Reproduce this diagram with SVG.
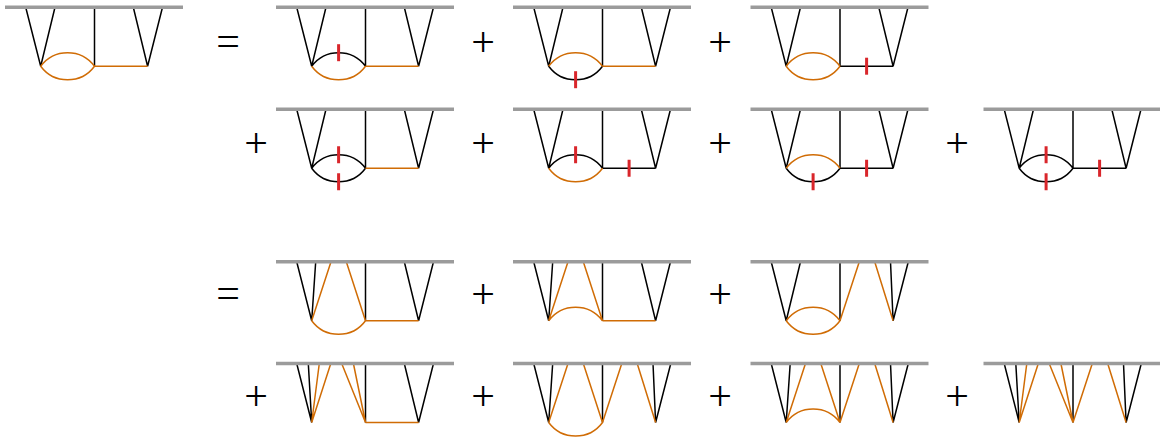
<svg xmlns="http://www.w3.org/2000/svg" width="1160" height="441" viewBox="0 0 1160 441">
<style>
.bar{stroke:#9b9b9b;stroke-width:3.6;fill:none}
.k{stroke:#000;stroke-width:1.5;fill:none}
.o{stroke:#d06c05;stroke-width:1.5;fill:none}
.t{stroke:#d9262b;stroke-width:3;fill:none}
.s{font-family:"Liberation Serif",serif;font-size:42px;text-anchor:middle;fill:#000}
</style>
<rect width="1160" height="441" fill="#fff"/>
<g id="symbols">
<text class="s" x="228" y="55">=</text>
<text class="s" x="483" y="56">+</text>
<text class="s" x="720" y="56">+</text>
<text class="s" x="256" y="157">+</text>
<text class="s" x="483" y="157">+</text>
<text class="s" x="720" y="157">+</text>
<text class="s" x="957" y="157">+</text>
<text class="s" x="228" y="307">=</text>
<text class="s" x="483" y="308">+</text>
<text class="s" x="720" y="308">+</text>
<text class="s" x="256" y="410">+</text>
<text class="s" x="483" y="410">+</text>
<text class="s" x="720" y="410">+</text>
<text class="s" x="957" y="410">+</text>
</g>
<g id="connectors">
<!-- row 1 -->
<g id="d1" transform="translate(5,7.2)">
<path class="k" d="M20.7 0L35.7 59M50 0L35.7 59M89.5 0V59M128.3 0L142.6 59M157.5 0L142.6 59"/>
<path class="o" d="M35.7 59A33.5 33.5 0 0 1 89.5 59M35.7 59A33.5 33.5 0 0 0 89.5 59M89.5 59H142.6"/>
<path class="bar" d="M0 0H178"/>
</g>
<g id="d2" transform="translate(276,7.2)">
<path class="k" d="M20.7 0L35.7 59M50 0L35.7 59M89.5 0V59M128.3 0L142.6 59M157.5 0L142.6 59M35.7 59A33.5 33.5 0 0 1 89.5 59"/>
<path class="o" d="M35.7 59A33.5 33.5 0 0 0 89.5 59M89.5 59H142.6"/>
<path class="t" d="M62.6 37v17"/>
<path class="bar" d="M0 0H178"/>
</g>
<g id="d3" transform="translate(513,7.2)">
<path class="k" d="M20.7 0L35.7 59M50 0L35.7 59M89.5 0V59M128.3 0L142.6 59M157.5 0L142.6 59M35.7 59A33.5 33.5 0 0 0 89.5 59"/>
<path class="o" d="M35.7 59A33.5 33.5 0 0 1 89.5 59M89.5 59H142.6"/>
<path class="t" d="M62.6 64v17"/>
<path class="bar" d="M0 0H178"/>
</g>
<g id="d4" transform="translate(750.5,7.2)">
<path class="k" d="M20.7 0L35.7 59M50 0L35.7 59M89.5 0V59M128.3 0L142.6 59M157.5 0L142.6 59M89.5 59H142.6"/>
<path class="o" d="M35.7 59A33.5 33.5 0 0 1 89.5 59M35.7 59A33.5 33.5 0 0 0 89.5 59"/>
<path class="t" d="M116.1 50.5v17"/>
<path class="bar" d="M0 0H178"/>
</g>
<!-- row 2 -->
<g id="d5" transform="translate(276,109.2)">
<path class="k" d="M20.7 0L35.7 59M50 0L35.7 59M89.5 0V59M128.3 0L142.6 59M157.5 0L142.6 59M35.7 59A33.5 33.5 0 0 1 89.5 59M35.7 59A33.5 33.5 0 0 0 89.5 59"/>
<path class="o" d="M89.5 59H142.6"/>
<path class="t" d="M62.6 37v17M62.6 64v17"/>
<path class="bar" d="M0 0H178"/>
</g>
<g id="d6" transform="translate(513,109.2)">
<path class="k" d="M20.7 0L35.7 59M50 0L35.7 59M89.5 0V59M128.3 0L142.6 59M157.5 0L142.6 59M35.7 59A33.5 33.5 0 0 1 89.5 59M89.5 59H142.6"/>
<path class="o" d="M35.7 59A33.5 33.5 0 0 0 89.5 59"/>
<path class="t" d="M62.6 37v17M116.1 50.5v17"/>
<path class="bar" d="M0 0H178"/>
</g>
<g id="d7" transform="translate(750.5,109.2)">
<path class="k" d="M20.7 0L35.7 59M50 0L35.7 59M89.5 0V59M128.3 0L142.6 59M157.5 0L142.6 59M35.7 59A33.5 33.5 0 0 0 89.5 59M89.5 59H142.6"/>
<path class="o" d="M35.7 59A33.5 33.5 0 0 1 89.5 59"/>
<path class="t" d="M62.6 64v17M116.1 50.5v17"/>
<path class="bar" d="M0 0H178"/>
</g>
<g id="d8" transform="translate(983.5,109.2)">
<path class="k" d="M20.7 0L35.7 59M50 0L35.7 59M89.5 0V59M128.3 0L142.6 59M157.5 0L142.6 59M35.7 59A33.5 33.5 0 0 1 89.5 59M35.7 59A33.5 33.5 0 0 0 89.5 59M89.5 59H142.6"/>
<path class="t" d="M62.6 37v17M62.6 64v17M116.1 50.5v17"/>
<path class="bar" d="M0 0H178"/>
</g>
<!-- row 3 -->
<g id="d9" transform="translate(276,261.8)">
<path class="k" d="M20.7 0L35.7 59M39.7 0L35.7 59M89.5 0V59M128.3 0L142.6 59M157.5 0L142.6 59"/>
<path class="o" d="M55 0L35.7 59M70.3 0L89.5 59M35.7 59A33.5 33.5 0 0 0 89.5 59M89.5 59H142.6"/>
<path class="bar" d="M0 0H178"/>
</g>
<g id="d10" transform="translate(513,261.8)">
<path class="k" d="M20.7 0L35.7 59M39.7 0L35.7 59M89.5 0V59M128.3 0L142.6 59M157.5 0L142.6 59"/>
<path class="o" d="M55 0L35.7 59M70.3 0L89.5 59M35.7 59A33.5 33.5 0 0 1 89.5 59M89.5 59H142.6"/>
<path class="bar" d="M0 0H178"/>
</g>
<g id="d11" transform="translate(750.5,261.8)">
<path class="k" d="M20.7 0L35.7 59M50 0L35.7 59M89.5 0V59M140 0L142.6 59M157.8 0L142.6 59"/>
<path class="o" d="M35.7 59A33.5 33.5 0 0 1 89.5 59M35.7 59A33.5 33.5 0 0 0 89.5 59M108.8 0L89.5 59M124.2 0L142.6 59"/>
<path class="bar" d="M0 0H178"/>
</g>
<!-- row 4 -->
<g id="d12" transform="translate(276,363.5)">
<path class="k" d="M20.7 0L35.7 59M32.3 0L35.7 59M89.5 0V59M128.3 0L142.6 59M157.5 0L142.6 59"/>
<path class="o" d="M43.3 0L35.7 59M54.8 0L35.7 59M65.7 0L89.5 59M77.4 0L89.5 59M89.5 59H142.6"/>
<path class="bar" d="M0 0H178"/>
</g>
<g id="d13" transform="translate(513,363.5)">
<path class="k" d="M20.7 0L35.7 59M39.7 0L35.7 59M89.5 0V59M140 0L142.6 59M157.8 0L142.6 59"/>
<path class="o" d="M55 0L35.7 59M70.3 0L89.5 59M108.8 0L89.5 59M124.2 0L142.6 59M35.7 59A33.5 33.5 0 0 0 89.5 59"/>
<path class="bar" d="M0 0H178"/>
</g>
<g id="d14" transform="translate(750.5,363.5)">
<path class="k" d="M20.7 0L35.7 59M39.7 0L35.7 59M89.5 0V59M140 0L142.6 59M157.8 0L142.6 59"/>
<path class="o" d="M55 0L35.7 59M70.3 0L89.5 59M108.8 0L89.5 59M124.2 0L142.6 59M35.7 59A33.5 33.5 0 0 1 89.5 59"/>
<path class="bar" d="M0 0H178"/>
</g>
<g id="d15" transform="translate(983.5,363.5)">
<path class="k" d="M20.7 0L35.7 59M32.3 0L35.7 59M89.5 0V59M140 0L142.6 59M157.8 0L142.6 59"/>
<path class="o" d="M43.3 0L35.7 59M54.8 0L35.7 59M65.7 0L89.5 59M77.4 0L89.5 59M108.8 0L89.5 59M124.2 0L142.6 59"/>
<path class="bar" d="M0 0H178"/>
</g>
</g>
</svg>
